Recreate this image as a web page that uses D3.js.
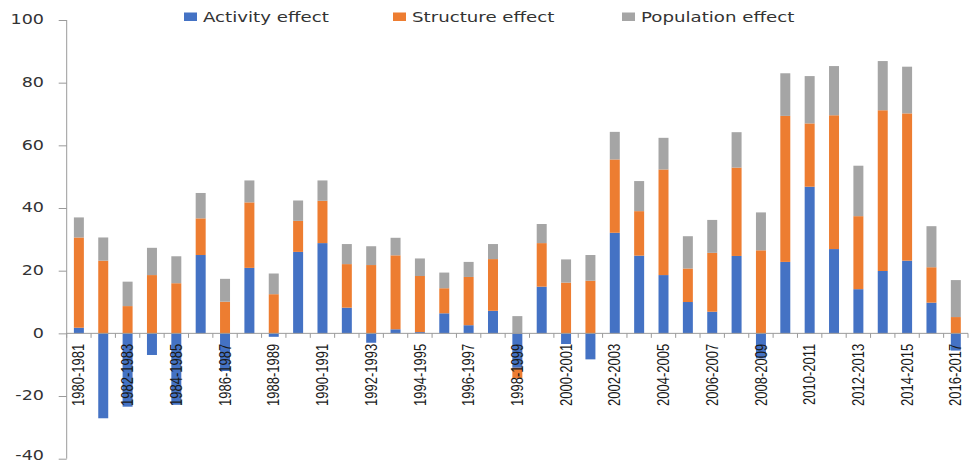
<!DOCTYPE html>
<html>
<head>
<meta charset="utf-8">
<script src="https://cdn.jsdelivr.net/npm/d3@7/dist/d3.min.js"></script>
<style>
  html, body { margin: 0; padding: 0; background: #ffffff; }
  svg { display: block; }
</style>
</head>
<body>
<svg id="chart" width="972" height="465"></svg>
<script>
// Periods (x categories)
const categories = [
  "1980-1981","1981-1982","1982-1983","1983-1984","1984-1985","1985-1986","1986-1987",
  "1987-1988","1988-1989","1989-1990","1990-1991","1991-1992","1992-1993","1993-1994",
  "1994-1995","1995-1996","1996-1997","1997-1998","1998-1999","1999-2000","2000-2001",
  "2001-2002","2002-2003","2003-2004","2004-2005","2005-2006","2006-2007","2007-2008",
  "2008-2009","2009-2010","2010-2011","2011-2012","2012-2013","2013-2014","2014-2015",
  "2015-2016","2016-2017"
];

// Decomposition components
const activityEffect = [
  1.8, -27.1, -23.4, -6.9, -22.8, 25.0, -12.0, 20.9, -1.1, 26.0, 28.8, 8.2, -3.0, 1.3,
  0.4, 6.4, 2.6, 7.2, -11.0, 14.9, -3.4, -8.3, 32.1, 24.8, 18.6, 10.0, 6.9, 24.7,
  -8.0, 22.8, 46.8, 26.9, 14.1, 19.9, 23.2, 9.8, -5.5
];
const structureEffect = [
  28.8, 23.2, 8.7, 18.6, 16.0, 11.7, 10.1, 20.9, 12.5, 9.9, 13.5, 13.9, 21.8, 23.6,
  17.9, 8.0, 15.4, 16.5, -3.4, 13.9, 16.2, 16.8, 23.4, 14.2, 33.7, 10.7, 18.8, 28.2,
  26.5, 46.6, 20.2, 42.7, 23.3, 51.3, 47.0, 11.3, 5.2
];
const populationEffect = [
  6.4, 7.4, 7.8, 8.7, 8.6, 8.1, 7.3, 7.0, 6.6, 6.5, 6.5, 6.4, 6.0, 5.6,
  5.6, 5.0, 4.8, 4.8, 5.5, 6.1, 7.4, 8.2, 8.8, 9.6, 10.1, 10.3, 10.5, 11.3,
  12.1, 13.6, 15.1, 15.7, 16.1, 15.7, 14.9, 13.1, 11.8
];

const seriesNames = ["Activity effect", "Structure effect", "Population effect"];
const seriesColors = ["#4472C4", "#ED7D31", "#A5A5A5"];
const yTicks = [-40, -20, 0, 20, 40, 60, 80, 100];

// Row table for d3.stack
const rows = categories.map((c, i) => ({
  period: c,
  "Activity effect": activityEffect[i],
  "Structure effect": structureEffect[i],
  "Population effect": populationEffect[i]
}));

const svg = d3.select("#chart");
const textColor = "#333333";
const axisColor = "#9a9a9a";
const hScale = 1.3;   // horizontal stretch applied to the text glyphs

const plot = { left: 66.7, right: 968, top: 20, bottom: 458.7 };
const legendX = [184, 393, 622];

const x = d3.scaleBand()
  .domain(categories)
  .range([plot.left, plot.right])
  .paddingInner(0.59)
  .paddingOuter(0.295);

const y = d3.scaleLinear()
  .domain([-40, 100])
  .range([plot.bottom, plot.top]);

const stacked = d3.stack()
  .keys(seriesNames)
  .offset(d3.stackOffsetDiverging)(rows);

// Bars
svg.append("g")
  .selectAll("g")
  .data(stacked)
  .join("g")
    .attr("fill", (d, i) => seriesColors[i])
  .selectAll("rect")
  .data(d => d)
  .join("rect")
    .attr("x", d => x(d.data.period))
    .attr("width", x.bandwidth())
    .attr("y", d => y(Math.max(d[0], d[1])))
    .attr("height", d => Math.abs(y(d[0]) - y(d[1])));

// Y axis line and ticks
const yAxis = svg.append("g")
  .attr("transform", `translate(${plot.left},0)`)
  .call(d3.axisLeft(y).tickValues(yTicks).tickSize(8).tickFormat(""));
yAxis.select(".domain").attr("stroke", axisColor).attr("d", `M-0,${plot.top}H0V${plot.bottom}H-0`);
yAxis.selectAll(".tick line").attr("stroke", axisColor);

// Y tick labels (the lowest one is kept inside the bottom edge)
svg.append("g")
  .selectAll("text")
  .data(yTicks)
  .join("text")
    .attr("transform", d => `translate(44,${Math.min(y(d), 455.5)}) scale(${hScale},1)`)
    .attr("dy", "0.33em")
    .attr("text-anchor", "end")
    .attr("font-family", "DejaVu Sans, sans-serif")
    .attr("font-size", 13.5)
    .attr("fill", textColor)
    .text(d => d);

// X axis line at zero with ticks between categories
const step = x.step();
const boundaries = d3.range(categories.length + 1).map(i => plot.left + i * step);
const xAxis = svg.append("g");
xAxis.append("line")
  .attr("x1", plot.left).attr("x2", plot.right)
  .attr("y1", y(0)).attr("y2", y(0))
  .attr("stroke", axisColor).attr("stroke-width", 1);
xAxis.selectAll("line.tk")
  .data(boundaries)
  .join("line")
    .attr("class", "tk")
    .attr("x1", d => d).attr("x2", d => d)
    .attr("y1", y(0)).attr("y2", y(0) + 4.5)
    .attr("stroke", axisColor).attr("stroke-width", 1);

// Category labels (every other period), rotated
svg.append("g")
  .selectAll("text")
  .data(categories.filter((c, i) => i % 2 === 0))
  .join("text")
    .attr("transform", d => `translate(${x(d) + x.bandwidth() / 2},${y(0) + 10.5}) scale(1.2,1) rotate(-90)`)
    .attr("dy", "0.36em")
    .attr("text-anchor", "end")
    .attr("font-family", "Liberation Sans, Arial, sans-serif")
    .attr("font-size", 13)
    .attr("fill", "#1a1a1a")
    .text(d => d);

// Legend
const legend = svg.append("g");
seriesNames.forEach((name, i) => {
  legend.append("rect")
    .attr("x", legendX[i]).attr("y", 12.5)
    .attr("width", 13).attr("height", 8.5)
    .attr("fill", seriesColors[i]);
  legend.append("text")
    .attr("transform", `translate(${legendX[i] + 19},21.5) scale(${hScale},1)`)
    .attr("font-family", "DejaVu Sans, sans-serif")
    .attr("font-size", 14)
    .attr("fill", textColor)
    .text(name);
});
</script>
</body>
</html>
